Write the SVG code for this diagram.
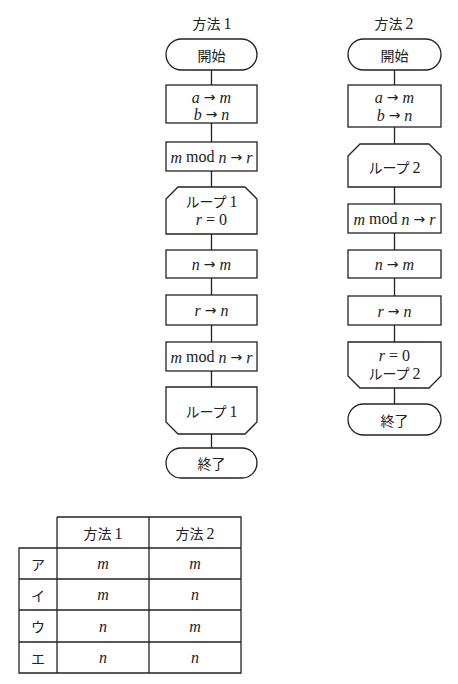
<svg xmlns="http://www.w3.org/2000/svg" width="458" height="684" viewBox="0 0 458 684">
<style>
.s{fill:#fff;stroke:#222;stroke-width:1.3}
.c{stroke:#222;stroke-width:1.3;fill:none}
.t{font-family:"Liberation Serif","Noto Sans CJK JP",serif;font-size:16px;fill:#222;text-anchor:middle;dominant-baseline:central}
.j{font-family:"Noto Sans CJK JP","Noto Sans",sans-serif;font-size:14px;fill:#222;text-anchor:middle;dominant-baseline:central}
.i{font-style:italic}
.d{font-family:"Liberation Serif",serif;font-size:16px}
.a{font-family:"DejaVu Sans",sans-serif;font-size:14px}
</style>
<rect width="458" height="684" fill="#fff"/>
<g id="connectors">
<path class="c" d="M211.5 70V85M211.5 123V142M211.5 171V187M211.5 234V250M211.5 278V295M211.5 325V342M211.5 371V387M211.5 434V448"/>
<path class="c" d="M394.5 70V85M394.5 127V144M394.5 187V204M394.5 233V250M394.5 278V296M394.5 325V342M394.5 388V404"/>
</g>
<g id="title1"><text class="j" x="212" y="23">方法<tspan class="d" dx="3">1</tspan></text></g>
<g id="title2"><text class="j" x="394" y="23">方法<tspan class="d" dx="3">2</tspan></text></g>
<g id="m1-start"><rect class="s" x="166" y="39" width="91" height="31" rx="15.5"/><text class="j" x="211.5" y="54.5">開始</text></g>
<g id="m1-init"><rect class="s" x="166" y="85" width="91" height="38"/><text class="t" x="211.5" y="97"><tspan class="i">a</tspan> <tspan class="a">→</tspan> <tspan class="i">m</tspan></text><text class="t" x="211.5" y="114"><tspan class="i">b</tspan> <tspan class="a">→</tspan> <tspan class="i">n</tspan></text></g>
<g id="m1-mod1"><rect class="s" x="166" y="142" width="91" height="29"/><text class="t" x="211.5" y="156.5"><tspan class="i">m</tspan> mod <tspan class="i">n</tspan> <tspan class="a">→</tspan> <tspan class="i">r</tspan></text></g>
<g id="m1-loopstart"><polygon class="s" points="166,199 178,187 245,187 257,199 257,234 166,234"/><text class="j" x="211.5" y="201">ループ<tspan class="d" dx="3">1</tspan></text><text class="t" x="211.5" y="219"><tspan class="i">r</tspan> = 0</text></g>
<g id="m1-nm"><rect class="s" x="166" y="250" width="91" height="28"/><text class="t" x="211.5" y="264"><tspan class="i">n</tspan> <tspan class="a">→</tspan> <tspan class="i">m</tspan></text></g>
<g id="m1-rn"><rect class="s" x="166" y="295" width="91" height="30"/><text class="t" x="211.5" y="310"><tspan class="i">r</tspan> <tspan class="a">→</tspan> <tspan class="i">n</tspan></text></g>
<g id="m1-mod2"><rect class="s" x="166" y="342" width="91" height="29"/><text class="t" x="211.5" y="356.5"><tspan class="i">m</tspan> mod <tspan class="i">n</tspan> <tspan class="a">→</tspan> <tspan class="i">r</tspan></text></g>
<g id="m1-loopend"><polygon class="s" points="166,387 257,387 257,422 245,434 178,434 166,422"/><text class="j" x="211.5" y="411">ループ<tspan class="d" dx="3">1</tspan></text></g>
<g id="m1-end"><rect class="s" x="166" y="448" width="91" height="30" rx="15"/><text class="j" x="211.5" y="463">終了</text></g>
<g id="m2-start"><rect class="s" x="348" y="39" width="93" height="31" rx="15.5"/><text class="j" x="394.5" y="54.5">開始</text></g>
<g id="m2-init"><rect class="s" x="348" y="85" width="93" height="42"/><text class="t" x="394.5" y="97"><tspan class="i">a</tspan> <tspan class="a">→</tspan> <tspan class="i">m</tspan></text><text class="t" x="394.5" y="115"><tspan class="i">b</tspan> <tspan class="a">→</tspan> <tspan class="i">n</tspan></text></g>
<g id="m2-loopstart"><polygon class="s" points="348,156 360,144 429,144 441,156 441,187 348,187"/><text class="j" x="394.5" y="167">ループ<tspan class="d" dx="3">2</tspan></text></g>
<g id="m2-mod"><rect class="s" x="348" y="204" width="93" height="29"/><text class="t" x="394.5" y="218.5"><tspan class="i">m</tspan> mod <tspan class="i">n</tspan> <tspan class="a">→</tspan> <tspan class="i">r</tspan></text></g>
<g id="m2-nm"><rect class="s" x="348" y="250" width="93" height="28"/><text class="t" x="394.5" y="264"><tspan class="i">n</tspan> <tspan class="a">→</tspan> <tspan class="i">m</tspan></text></g>
<g id="m2-rn"><rect class="s" x="348" y="296" width="93" height="29"/><text class="t" x="394.5" y="310.5"><tspan class="i">r</tspan> <tspan class="a">→</tspan> <tspan class="i">n</tspan></text></g>
<g id="m2-loopend"><polygon class="s" points="348,342 441,342 441,376 429,388 360,388 348,376"/><text class="t" x="394.5" y="355"><tspan class="i">r</tspan> = 0</text><text class="j" x="394.5" y="373">ループ<tspan class="d" dx="3">2</tspan></text></g>
<g id="m2-end"><rect class="s" x="348" y="404" width="93" height="31" rx="15.5"/><text class="j" x="394.5" y="420">終了</text></g>
<g id="table">
<path class="c" d="M57 517H241V673H19V548H241M57 517V673M149 517V673M19 579H241M19 610H241M19 642H241M19 548V673"/>
<text class="j" x="103" y="532.5">方法<tspan class="d" dx="3">1</tspan></text>
<text class="j" x="195" y="532.5">方法<tspan class="d" dx="3">2</tspan></text>
<text class="j" x="38" y="563.5">ア</text>
<text class="j" x="38" y="594.5">イ</text>
<text class="j" x="38" y="626">ウ</text>
<text class="j" x="38" y="657.5">エ</text>
<text class="t i" x="103" y="563.5">m</text><text class="t i" x="195" y="563.5">m</text>
<text class="t i" x="103" y="594.5">m</text><text class="t i" x="195" y="594.5">n</text>
<text class="t i" x="103" y="626">n</text><text class="t i" x="195" y="626">m</text>
<text class="t i" x="103" y="657.5">n</text><text class="t i" x="195" y="657.5">n</text>
</g>
</svg>
